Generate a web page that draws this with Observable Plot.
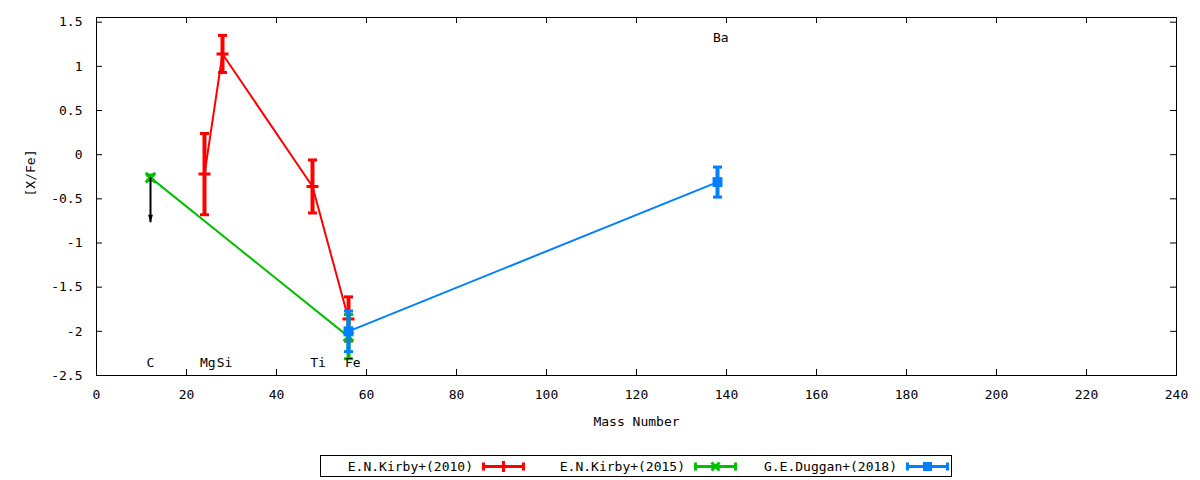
<!DOCTYPE html>
<html>
<head>
<meta charset="utf-8">
<script src="https://cdn.jsdelivr.net/npm/d3@7"></script>
<script src="https://cdn.jsdelivr.net/npm/@observablehq/plot@0.6"></script>
<style>
  body { margin: 0; background: #fff; font-family: "DejaVu Sans Mono", monospace; }
  #wrap { position: relative; width: 1200px; height: 480px; }
  #legend {
    position: absolute; left: 320px; top: 455px; width: 630px; height: 20px;
    border: 1px solid #000; display: flex; align-items: center; font-size: 13px; color: #000;
  }
  #legend .item { width: 212px; display: flex; align-items: center; flex: none; }
  #legend .item span { width: 152px; text-align: right; white-space: pre; }
  #legend .item svg { margin-left: 9px; }
</style>
</head>
<body>
<div id="wrap">
  <div id="chart"></div>
  <div id="legend"></div>
</div>
<script>
// E.N.Kirby+(2010): Mg, Si, Ti, Fe
const kirby10Mass = [24, 28, 48, 56]
const kirby10Val = [-0.22, 1.14, -0.36, -1.86]
const kirby10Err = [0.46, 0.21, 0.30, 0.25]
// E.N.Kirby+(2015): C, Fe
const kirby15Mass = [12, 56]
const kirby15Val = [-0.26, -2.06]
const kirby15Err = [0.03, 0.25]
// G.E.Duggan+(2018): Fe, Ba
const dugganMass = [56, 138]
const dugganVal = [-2.0, -0.31]
const dugganErr = [0.23, 0.17]
// upper limit arrow on C
const limitMass = [12]
const limitFrom = [-0.26]
const limitTo = [-0.77]
// element labels
const elements = ["C", "Mg", "Si", "Ti", "Fe", "Ba"]
const elemX = [11.1, 23.0, 26.7, 47.5, 55.2, 137.0]
const elemY = [-2.36, -2.36, -2.36, -2.36, -2.36, 1.32]
// ticks
const xTicks = d3.range(0, 241, 20)
const yTicks = [-2.5, -2, -1.5, -1, -0.5, 0, 0.5, 1, 1.5]

const legendNames = ["E.N.Kirby+(2010)", "E.N.Kirby+(2015)", "G.E.Duggan+(2018)"]
const colors = ["#ff0000", "#00c000", "#0080ff"]
const markers = ["plus", "cross", "square"]

const rows = (m, v, e) => m.map((x, i) => ({mass: x, val: v[i], err: e[i]}))
const kirby10 = rows(kirby10Mass, kirby10Val, kirby10Err)
const kirby15 = rows(kirby15Mass, kirby15Val, kirby15Err)
const duggan = rows(dugganMass, dugganVal, dugganErr)
const limits = limitMass.map((x, i) => ({mass: x, from: limitFrom[i], to: limitTo[i]}))
const labels = elements.map((t, i) => ({t, x: elemX[i], y: elemY[i]}))

// custom symbols (gnuplot-ish)
const rad = size => Math.sqrt(size / Math.PI)
const capSym = {draw(ctx, size) { const r = rad(size); ctx.moveTo(-r, 0); ctx.lineTo(r, 0) }}
const plusSym = {draw(ctx, size) { const r = rad(size); ctx.moveTo(-r, 0); ctx.lineTo(r, 0); ctx.moveTo(0, -r); ctx.lineTo(0, r) }}
const crossSym = {draw(ctx, size) { const r = rad(size) * 0.8; ctx.moveTo(-r, -r); ctx.lineTo(r, r); ctx.moveTo(-r, r); ctx.lineTo(r, -r) }}
const headSym = {draw(ctx, size) { const r = rad(size); ctx.moveTo(0, 0); ctx.lineTo(-r * 0.6, -r * 2); ctx.lineTo(r * 0.6, -r * 2); ctx.closePath() }}

function series(data, color, marker) {
  const out = [
    Plot.line(data, {x: "mass", y: "val", stroke: color, strokeWidth: 2}),
    Plot.ruleX(data, {x: "mass", y1: d => d.val - d.err, y2: d => d.val + d.err, stroke: color, strokeWidth: 4}),
    Plot.dot(data, {x: "mass", y: d => d.val + d.err, symbol: capSym, r: 4.5, stroke: color, strokeWidth: 3, fill: "none"}),
    Plot.dot(data, {x: "mass", y: d => d.val - d.err, symbol: capSym, r: 4.5, stroke: color, strokeWidth: 3, fill: "none"})
  ]
  if (marker == "plus") out.push(Plot.dot(data, {x: "mass", y: "val", symbol: plusSym, r: 6, stroke: color, strokeWidth: 3, fill: "none"}))
  if (marker == "cross") out.push(Plot.dot(data, {x: "mass", y: "val", symbol: crossSym, r: 6, stroke: color, strokeWidth: 3, fill: "none"}))
  if (marker == "square") out.push(Plot.dot(data, {x: "mass", y: "val", symbol: "square", r: 5.6, fill: color, stroke: "none"}))
  return out
}

const W = 1200, H = 448, mL = 96, mR = 24, mT = 17, mB = 73
const fw = W - mL - mR, fh = H - mT - mB

const chart = Plot.plot({
  width: W,
  height: H,
  marginLeft: mL,
  marginRight: mR,
  marginTop: mT,
  marginBottom: mB,
  style: {fontFamily: "DejaVu Sans Mono", fontSize: "13px", color: "#000", background: "#fff"},
  x: {domain: [0, 240]},
  y: {domain: [-2.5, 1.553]},
  marks: [
    // inward ticks on all four sides
    Plot.tickX(xTicks, {x: d => d, insetTop: fh - 6, stroke: "#000"}),
    Plot.tickX(xTicks, {x: d => d, insetBottom: fh - 6, stroke: "#000"}),
    Plot.tickY(yTicks, {y: d => d, insetRight: fw - 6, stroke: "#000"}),
    Plot.tickY(yTicks, {y: d => d, insetLeft: fw - 6, stroke: "#000"}),
    Plot.axisX({ticks: xTicks, tickSize: 0, tickPadding: 14, tickFormat: d => String(d), label: null}),
    Plot.axisY({ticks: yTicks, tickSize: 0, tickPadding: 14, tickFormat: d => String(d), label: null}),
    Plot.text(["Mass Number"], {text: d => d, frameAnchor: "bottom", dy: 50}),
    Plot.text(["[X/Fe]"], {text: d => d, frameAnchor: "left", dx: -66, rotate: -90}),
    ...series(kirby10, colors[0], markers[0]),
    ...series(kirby15, colors[1], markers[1]),
    ...series(duggan, colors[2], markers[2]),
    Plot.ruleX(limits, {x: "mass", y1: "from", y2: "to", stroke: "#000", strokeWidth: 2}),
    Plot.dot(limits, {x: "mass", y: "to", symbol: headSym, r: 4, fill: "#000", stroke: "none"}),
    Plot.text(labels, {x: "x", y: "y", text: "t", textAnchor: "start", fill: "#000"}),
    Plot.frame({stroke: "#000"})
  ]
})
d3.select("#chart").append(() => chart)

// legend below the svg
const items = d3.select("#legend").selectAll("div").data(legendNames).join("div").attr("class", "item")
items.append("span").text(d => d)
items.append("svg").attr("width", 43).attr("height", 21).each(function(d, i) {
  const g = d3.select(this), c = colors[i]
  g.append("path").attr("d", "M1.5,10.5H41.5M1.5,6.5V14.5M41.5,6.5V14.5")
    .attr("stroke", c).attr("stroke-width", 3).attr("fill", "none")
  if (markers[i] == "plus") g.append("path").attr("d", "M21.5,5V16").attr("stroke", c).attr("stroke-width", 3)
  if (markers[i] == "cross") g.append("path").attr("d", "M17.5,6.5L25.5,14.5M17.5,14.5L25.5,6.5").attr("stroke", c).attr("stroke-width", 3)
  if (markers[i] == "square") g.append("rect").attr("x", 17).attr("y", 6).attr("width", 9).attr("height", 9).attr("fill", c)
})
</script>
</body>
</html>
